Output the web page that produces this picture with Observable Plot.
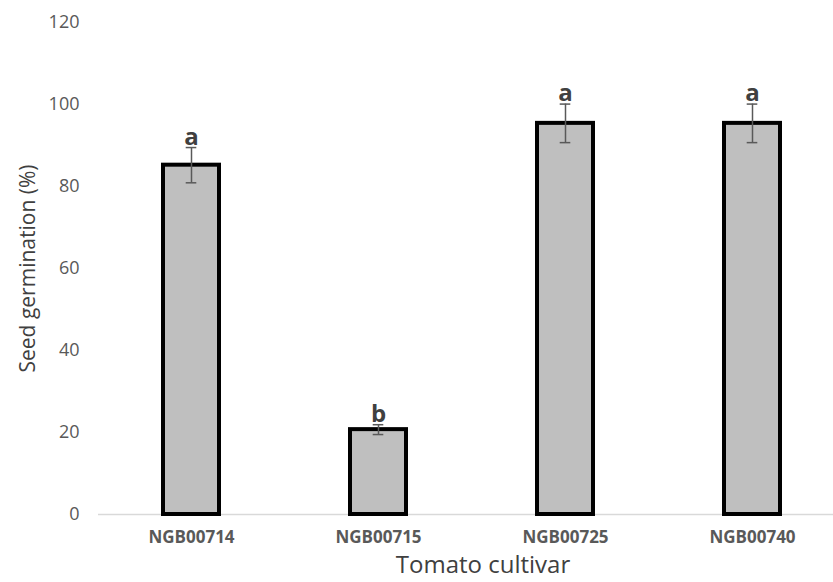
<!DOCTYPE html>
<html><head><meta charset="utf-8">
<script src="https://cdn.jsdelivr.net/npm/d3@7"></script>
<script src="https://cdn.jsdelivr.net/npm/@observablehq/plot@0.6"></script>
<style>body{margin:0;background:#fff}</style>
</head><body><div id="chart"></div>
<script>
const cultivars = ["NGB00714", "NGB00715", "NGB00725", "NGB00740"];
const germination = [85.2, 20.7, 95.4, 95.4];
const errors = [4.3, 1.2, 4.7, 4.7];
const letters = ["a", "b", "a", "a"];
const yTicks = [0, 20, 40, 60, 80, 100, 120];
const xTitle = "Tomato cultivar";
const yTitle = "Seed germination (%)";

const data = cultivars.map((c, i) => ({cultivar: c, value: germination[i], err: errors[i], letter: letters[i]}));

const chart = Plot.plot({
  width: 833, height: 582,
  marginTop: 22, marginBottom: 68, marginLeft: 98, marginRight: 0,
  style: {fontFamily: "'Open Sans', sans-serif", background: "white", color: "#595959"},
  x: {domain: cultivars, range: [98, 846], paddingInner: 0.7, paddingOuter: 0.34, label: null},
  y: {domain: [0, 120], ticks: yTicks, label: null},
  marks: [
    Plot.ruleY([0], {stroke: "#d9d9d9", strokeWidth: 1.5}),
    Plot.barY(data, {x: "cultivar", y: "value", fill: "#bfbfbf", stroke: "#000", strokeWidth: 4}),
    Plot.ruleX(data, {x: "cultivar", y1: d => d.value - d.err, y2: d => d.value + d.err, stroke: "#595959", strokeWidth: 1.5}),
    Plot.tickY(data, {x: "cultivar", y: d => d.value + d.err, stroke: "#595959", strokeWidth: 1.5, insetLeft: 22.7, insetRight: 22.7}),
    Plot.tickY(data, {x: "cultivar", y: d => d.value - d.err, stroke: "#595959", strokeWidth: 1.5, insetLeft: 22.7, insetRight: 22.7}),
    Plot.text(data, {x: "cultivar", y: d => d.value + d.err, text: "letter", dy: -3, lineAnchor: "bottom", fontWeight: "bold", fontSize: 24, fill: "#404040"}),
    Plot.axisY({ticks: yTicks, tickSize: 0, tickPadding: 19, fontSize: 18, label: null}),
    Plot.axisX({tickSize: 0, tickPadding: 16, fontSize: 17, fontWeight: "bold", label: null}),
    Plot.text([xTitle], {frameAnchor: "bottom", dx: 17, dy: 58, fontSize: 24, fill: "#404040"}),
    Plot.text([yTitle], {frameAnchor: "left", textAnchor: "middle", rotate: -90, dx: -70, fontSize: 21, fill: "#404040"})
  ]
});
document.getElementById("chart").appendChild(chart);
</script>
</body></html>
